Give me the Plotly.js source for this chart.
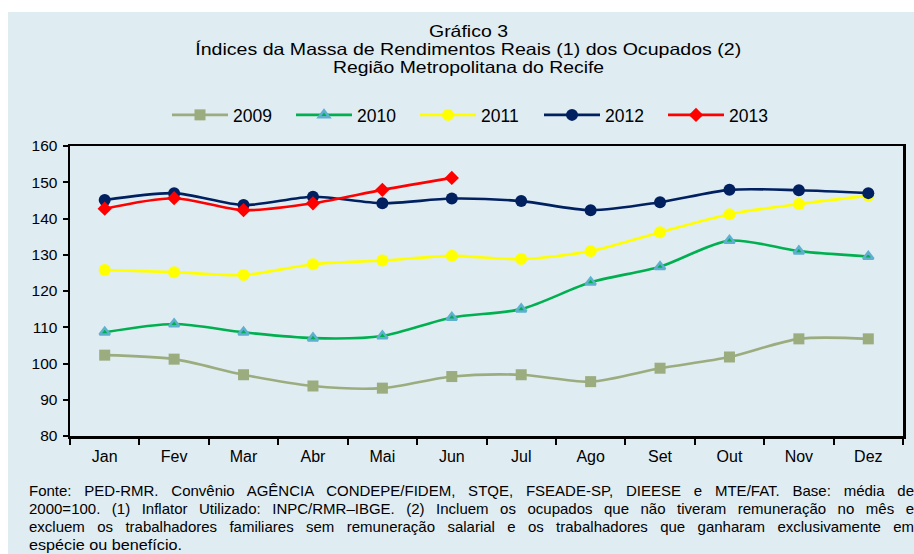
<!DOCTYPE html>
<html>
<head>
<meta charset="utf-8">
<script src="https://cdn.plot.ly/plotly-3.0.1.min.js"></script>
<style>html,body{margin:0;padding:0;background:#fff;}#chart{width:914px;height:554px;}</style>
</head>
<body>
<div id="chart"></div>
<script>
const months = ["Jan","Fev","Mar","Abr","Mai","Jun","Jul","Ago","Set","Out","Nov","Dez"];
const s2009 = [102.3,101.2,96.9,93.8,93.2,96.4,96.9,95.0,98.7,101.8,106.8,106.8];
const s2010 = [108.6,110.9,108.6,107.0,107.6,112.7,115.0,122.4,126.7,133.9,131.0,129.5];
const s2011 = [125.8,125.2,124.4,127.4,128.4,129.7,128.8,131.0,136.2,141.2,144.0,146.3];
const s2012 = [145.1,147.0,143.7,146.0,144.2,145.5,144.8,142.3,144.5,147.9,147.8,147.0];
const s2013 = [142.7,145.6,142.3,144.2,147.9,151.2];
const yTicks = [80,90,100,110,120,130,140,150,160];
const footLines = [
 "Fonte: PED-RMR. Convênio AGÊNCIA CONDEPE/FIDEM, STQE, FSEADE-SP, DIEESE e MTE/FAT. Base: média de",
 "2000=100. (1) Inflator Utilizado: INPC/RMR–IBGE. (2) Incluem os ocupados que não tiveram remuneração no mês e",
 "excluem os trabalhadores familiares sem remuneração salarial e os trabalhadores que ganharam exclusivamente em",
 "espécie ou benefício."
];
const titleLines = ["Gráfico 3","Índices da Massa de Rendimentos Reais (1) dos Ocupados (2)","Região Metropolitana do Recife"];

const W=914,H=554, L=70, R=11, T=146, B=118;
const pw=W-L-R, ph=H-T-B;
const px=x=>(x-L)/pw, py=y=>(H-B-y)/ph;
const BG="#DFECF2";
const font="Liberation Sans, Arial, sans-serif";

function tr(name,y,color,sym,msize,mcolor,mline){
  return {x:months.slice(0,y.length),y:y,name:name,type:"scatter",mode:"lines+markers",
    line:{color:color,width:2.6,shape:"spline",smoothing:0.8},
    marker:{symbol:sym,size:msize,color:mcolor||color,line:mline||{width:0}},cliponaxis:false};
}
const data=[
 tr("2009",s2009,"#9BAC7E","square",11),
 tr("2010",s2010,"#00B050","triangle-up",9,"#00B050",{color:"#5FB0CE",width:2.5}),
 tr("2011",s2011,"#FFFF00","circle",12),
 tr("2012",s2012,"#002060","circle",12),
 tr("2013",s2013,"#FF0000","diamond",11)
];
const ann=[];
const ty=[30.5,49,67.5];
const tw=[79,546,271];
titleLines.forEach((t,i)=>ann.push({text:t,xref:"paper",yref:"paper",x:px(468),y:py(ty[i]),xanchor:"center",yanchor:"middle",showarrow:false,font:{family:font,size:16.5,color:"#000"}}));
const fy=[490,508,526,544];
footLines.forEach((t,i)=>ann.push({text:t,xref:"paper",yref:"paper",x:px(27),y:py(fy[i]),xanchor:"left",yanchor:"middle",align:"left",showarrow:false,font:{family:font,size:15,color:"#000"}}));

const layout={
 width:W,height:H,margin:{l:L,r:R,t:T,b:B,pad:0},
 paper_bgcolor:BG,plot_bgcolor:BG,font:{family:font,color:"#000"},
 showlegend:true,
 legend:{orientation:"h",x:px(477),xanchor:"center",y:py(115),yanchor:"middle",font:{size:17.5,family:font},bgcolor:"rgba(0,0,0,0)",itemwidth:56,entrywidth:53,traceorder:"normal"},
 xaxis:{type:"category",categoryorder:"array",categoryarray:months,range:[-0.5,11.5],showline:true,mirror:true,linecolor:"#000",linewidth:2.5,ticks:"outside",tickson:"boundaries",ticklen:6,tickwidth:2,tickcolor:"#000",showgrid:false,zeroline:false,tickfont:{size:16,family:font},ticklabelstandoff:4,fixedrange:true},
 yaxis:{range:[80,160],tickvals:yTicks,ticktext:yTicks.map(String),showline:true,mirror:true,linecolor:"#000",linewidth:2.5,ticks:"outside",ticklen:5,tickwidth:2,tickcolor:"#000",showgrid:false,zeroline:false,tickfont:{size:15.5,family:font},ticklabelstandoff:2,fixedrange:true},
 shapes:[
  {type:"rect",xref:"paper",yref:"paper",x0:px(-5),x1:px(W+5),y0:py(12),y1:py(-5),fillcolor:"#fff",line:{width:0},layer:"below"},
  {type:"rect",xref:"paper",yref:"paper",x0:px(-5),x1:px(8),y0:py(H+5),y1:py(-5),fillcolor:"#fff",line:{width:0},layer:"below"}
 ],
 annotations:ann
};
Plotly.newPlot("chart",data,layout,{displayModeBar:false,staticPlot:true}).then(gd=>{
  gd.querySelectorAll(".annotation-text").forEach(t=>{
    const s=t.textContent;
    const ti=titleLines.indexOf(s);
    if(ti>=0){ t.setAttribute("textLength",String(tw[ti])); t.setAttribute("lengthAdjust","spacingAndGlyphs"); }
    const idx=footLines.indexOf(s);
    if(idx>=0 && idx<3){
      const w=t.getComputedTextLength(), target=885;
      const n=(s.match(/ /g)||[]).length;
      if(w<target){ t.style.wordSpacing=((target-w)/n)+"px"; }
      else { t.setAttribute("textLength",String(target)); t.setAttribute("lengthAdjust","spacingAndGlyphs"); }
    }
    if(idx===3){ t.setAttribute("textLength","153"); t.setAttribute("lengthAdjust","spacingAndGlyphs"); }
  });
});
</script>
</body>
</html>
